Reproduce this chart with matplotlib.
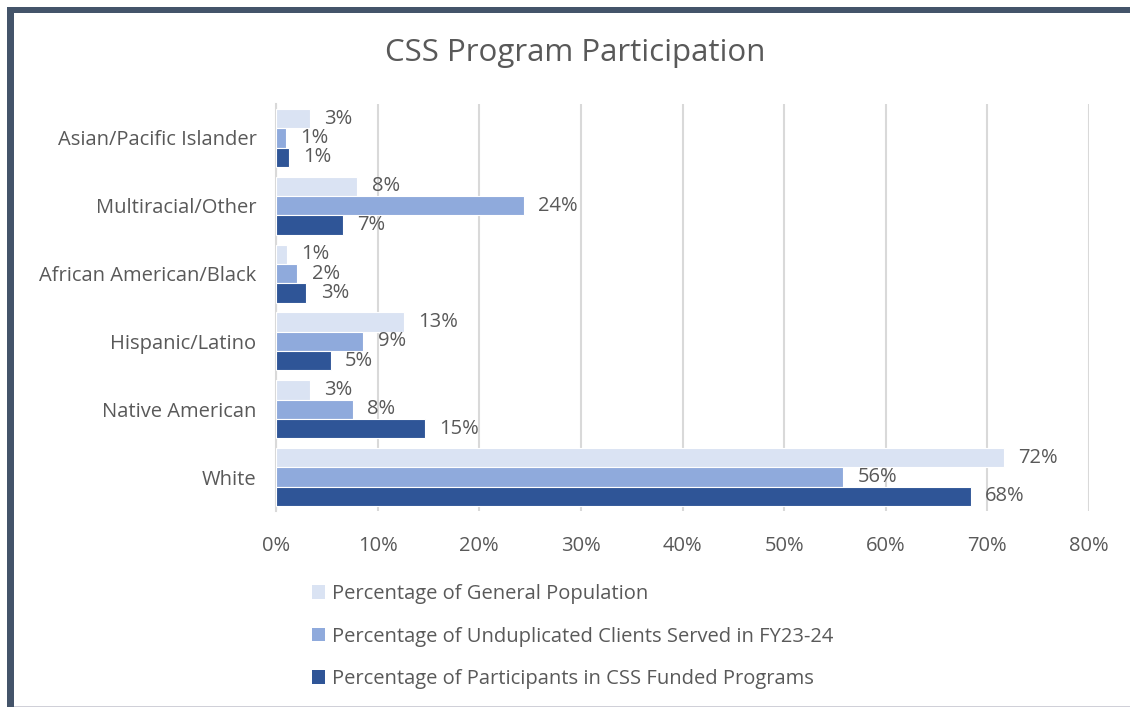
import matplotlib
matplotlib.use("Agg")
import matplotlib.pyplot as plt
from matplotlib.patches import Rectangle
import numpy as np

categories = ["Asian/Pacific Islander", "Multiracial/Other", "African American/Black",
              "Hispanic/Latino", "Native American", "White"]
general_pop = [3.3, 8.0, 1.1, 12.6, 3.3, 71.6]
unduplicated = [1.0, 24.4, 2.1, 8.6, 7.6, 55.8]
css_funded = [1.3, 6.6, 3.0, 5.4, 14.7, 68.4]
series_names = ["Percentage of General Population",
                "Percentage of Unduplicated Clients Served in FY23-24",
                "Percentage of Participants in CSS Funded Programs"]
colors = ["#DAE3F3", "#8FAADC", "#2F5597"]
xticks = [0, 10, 20, 30, 40, 50, 60, 70, 80]

FONT = "Open Sans"
TXT = "#595959"
FS = 14.5
plt.rcParams["font.family"] = [FONT, "DejaVu Sans"]

W, H = 1130, 707
fig = plt.figure(figsize=(W / 100, H / 100), dpi=100)
ax = fig.add_axes([276 / W, 1 - 511 / H, (1089 - 276) / W, (511 - 104) / H])

y = np.arange(len(categories))
bh = 0.285
series = [general_pop, unduplicated, css_funded]
offsets = [-bh, 0, bh]
for vals, off, col, name in zip(series, offsets, colors, series_names):
    bars = ax.barh(y + off, vals, height=bh, color=col, edgecolor="white",
                   linewidth=0.8, label=name, zorder=3)
    for b, v in zip(bars, vals):
        ax.text(v + 1.4, b.get_y() + b.get_height() / 2, f"{round(v):d}%",
                va="center", ha="left", fontsize=FS, color=TXT, zorder=4)

ax.set_xlim(0, 80)
ax.set_ylim(len(categories) - 0.5, -0.5)
ax.set_yticks(y)
ax.set_yticklabels(categories, fontsize=FS, color=TXT)
ax.set_xticks(xticks)
ax.set_xticklabels([f"{t}%" for t in xticks], fontsize=FS, color=TXT)
ax.tick_params(axis="y", length=0, pad=14)
ax.tick_params(axis="x", length=0, pad=18)
ax.grid(axis="x", color="#D9D9D9", linewidth=1.5, zorder=0)
for s in ["top", "right", "bottom"]:
    ax.spines[s].set_visible(False)
ax.spines["left"].set_color("#D9D9D9")
ax.spines["left"].set_linewidth(1.5)

fig.text(575 / W, 1 - 53 / H, "CSS Program Participation", ha="center", va="center",
         fontsize=22.5, color=TXT)

handles, labels = ax.get_legend_handles_labels()
leg = fig.legend(handles, labels, loc="upper left",
                 bbox_to_anchor=(294 / W, 1 - 566 / H), frameon=False,
                 fontsize=FS, labelcolor=TXT, handlelength=0.65, handleheight=0.65,
                 handletextpad=0.35, labelspacing=1.12)
for h in leg.legend_handles:
    h.set_edgecolor("none")

# border
fig.add_artist(Rectangle((7 / W, 0), 7 / W, 1 - 7 / H, transform=fig.transFigure,
                         color="#44546A", lw=0))
fig.add_artist(Rectangle((7 / W, 1 - 13 / H), 1 - 7 / W, 6 / H, transform=fig.transFigure,
                         color="#44546A", lw=0))
fig.add_artist(Rectangle((14 / W, 0), 1 - 14 / W, 1.2 / H, transform=fig.transFigure,
                         color="#D0D0D8", lw=0))

fig.savefig("out.png", dpi=100)
